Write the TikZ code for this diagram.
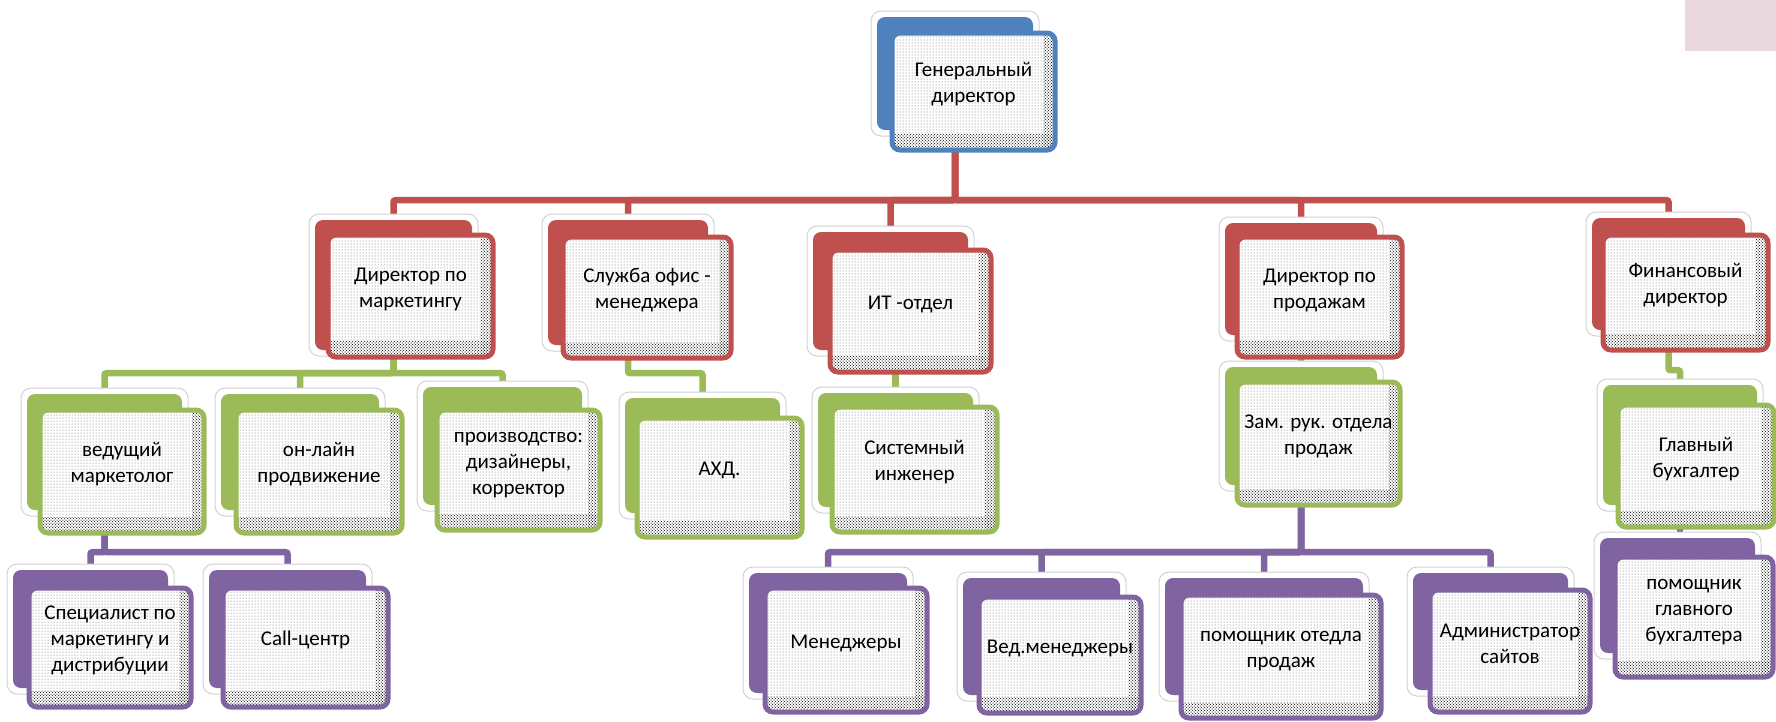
\documentclass[tikz,border=0pt]{standalone}
\usepackage{fontspec}
\setmainfont{Carlito}
\usetikzlibrary{fit,patterns}
\definecolor{cblue}{RGB}{79,129,189}
\definecolor{cred}{RGB}{192,80,77}
\definecolor{cgreen}{RGB}{155,187,89}
\definecolor{cpurple}{RGB}{128,100,162}
\definecolor{cpink}{RGB}{232,215,221}
\pgfdeclarelayer{background}
\pgfsetlayers{background,main}
\tikzset{
  halo/.style={fill=white, draw=gray!35, line width=1pt, rounded corners=10pt},
  backshape/.style={inner sep=0pt, rounded corners=8pt, draw=none},
  frontshape/.style={inner sep=0pt, line width=5pt, rounded corners=8pt, align=center,
     font=\fontsize{21}{26}\selectfont},
  conn/.style={line width=6.5pt, rounded corners=2pt},
}
\newcommand{\backbox}[6]{%
  \draw[halo] (#3-6,#4-6) rectangle (#5+6,#6+6);
  \node[backshape, fill=#2, fit={(#3,#4)(#5,#6)}] (#1B) {};
}
\newcommand{\frontbox}[7]{%
  \fill[white, rounded corners=8pt] (#3,#4) rectangle (#5,#6);
  \fill[pattern=dots, pattern color=black!60, rounded corners=8pt] (#3,#4) rectangle (#5,#6);
  \begin{scope}
    \clip[rounded corners=8pt] (#3,#4) rectangle (#5,#6);
    \fill[pattern=crosshatch dots, pattern color=black] (#3,#6-16) rectangle (#5,#6);
    \fill[pattern=crosshatch dots, pattern color=black] (#5-12,#4) rectangle (#5,#6);
  \end{scope}
  \node[frontshape, draw=#2, fit={(#3,#4)(#5,#6)}] (#1) {#7};
}
\begin{document}
\begin{tikzpicture}[x=1pt,y=-1pt]
\useasboundingbox (0,0) rectangle (1776,721);
\fill[cpink] (1685,0) rectangle (1776,51);

% level 0
\backbox{gen}{cblue}{877}{17}{1033}{130}
\frontbox{gen}{cblue}{892}{33}{1055}{150}{Генеральный\\директор}

% level 1 (red)
\backbox{mkt}{cred}{315}{220}{472}{350}
\frontbox{mkt}{cred}{328}{235}{493}{357}{Директор по\\маркетингу}
\backbox{off}{cred}{548}{220}{708}{345}
\frontbox{off}{cred}{563}{237}{731}{358}{Служба офис -\\менеджера}
\backbox{it}{cred}{813}{232}{968}{350}
\frontbox{it}{cred}{830}{250}{991}{372}{ИТ -отдел}
\backbox{sal}{cred}{1225}{223}{1377}{335}
\frontbox{sal}{cred}{1237}{237}{1402}{357}{Директор по\\продажам}
\backbox{fin}{cred}{1592}{218}{1745}{330}
\frontbox{fin}{cred}{1603}{235}{1768}{350}{Финансовый\\директор}

% level 2 (green)
\backbox{ved}{cgreen}{27}{394}{182}{510}
\frontbox{ved}{cgreen}{40}{410}{204}{533}{ведущий\\маркетолог}
\backbox{onl}{cgreen}{221}{394}{379}{510}
\frontbox{onl}{cgreen}{236}{410}{402}{533}{он-лайн\\продвижение}
\backbox{prd}{cgreen}{423}{387}{582}{505}
\frontbox{prd}{cgreen}{437}{410}{600}{530}{производство:\\дизайнеры,\\корректор}
\backbox{axd}{cgreen}{625}{398}{780}{513}
\frontbox{axd}{cgreen}{637}{418}{802}{537}{АХД.}
\backbox{sys}{cgreen}{818}{393}{973}{507}
\frontbox{sys}{cgreen}{832}{407}{997}{532}{Системный\\инженер}
\backbox{zam}{cgreen}{1225}{367}{1377}{485}
\frontbox{zam}{cgreen}{1237}{382}{1400}{505}{Зам. рук. отдела\\продаж}
\backbox{gb}{cgreen}{1603}{385}{1757}{505}
\frontbox{gb}{cgreen}{1618}{405}{1774}{527}{Главный\\бухгалтер}

% level 3 (purple)
\backbox{spec}{cpurple}{13}{570}{168}{688}
\frontbox{spec}{cpurple}{29}{588}{191}{707}{Специалист по\\маркетингу и\\дистрибуции}
\backbox{call}{cpurple}{209}{570}{366}{688}
\frontbox{call}{cpurple}{223}{588}{388}{707}{Call-центр}
\backbox{man}{cpurple}{749}{573}{907}{693}
\frontbox{man}{cpurple}{765}{588}{927}{712}{Менеджеры}
\backbox{vman}{cpurple}{963}{578}{1120}{695}
\frontbox{vman}{cpurple}{979}{597}{1141}{713}{Вед.менеджеры}
\backbox{pom}{cpurple}{1165}{578}{1363}{695}
\frontbox{pom}{cpurple}{1181}{595}{1381}{718}{помощник отедла\\продаж}
\backbox{adm}{cpurple}{1413}{573}{1568}{690}
\frontbox{adm}{cpurple}{1430}{590}{1590}{712}{Администратор\\сайтов}
\backbox{pgb}{cpurple}{1600}{538}{1755}{653}
\frontbox{pgb}{cpurple}{1615}{557}{1773}{677}{помощник\\главного\\бухгалтера}

\begin{pgfonlayer}{background}
  % red bus
  \foreach \c in {mktB,offB,itB,salB,finB}
    \draw[conn, cred] (genB.south) -- ++(0,70) -| (\c.north);
  % green
  \foreach \c in {vedB,onlB,prdB}
    \draw[conn, cgreen] (mktB.south) -- ++(0,23) -| (\c.north);
  \draw[conn, cgreen] (offB.south) -- ++(0,28) -| (axdB.north);
  \draw[conn, cgreen] (sysB.north |- itB.south) -- (sysB.north);
  \draw[conn, cgreen] (salB.south) -- (zamB.north);
  \draw[conn, cgreen] (finB.south) -- ++(0,40) -| (gbB.north);
  % purple
  \foreach \c in {specB,callB}
    \draw[conn, cpurple] (vedB.south) -- ++(0,42) -| (\c.north);
  \foreach \c in {manB,vmanB,pomB,admB}
    \draw[conn, cpurple] (zamB.south) -- ++(0,67) -| (\c.north);
  \draw[conn, cpurple] (gbB.south) -- (gbB.south |- pgbB.north);
\end{pgfonlayer}
\end{tikzpicture}
\end{document}
